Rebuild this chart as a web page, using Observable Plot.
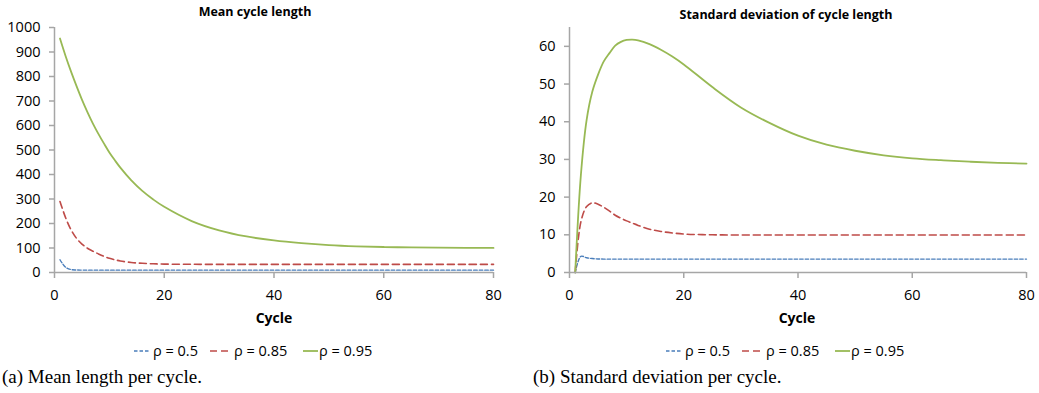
<!DOCTYPE html>
<html><head><meta charset="utf-8">
<script src="https://cdn.jsdelivr.net/npm/d3@7"></script>
<script src="https://cdn.jsdelivr.net/npm/@observablehq/plot@0.6"></script>
<style>
body{margin:0;background:#fff;}
#root{position:relative;width:1039px;height:393px;font-family:"Open Sans",sans-serif;color:#000;overflow:hidden;}
.panel{position:absolute;top:0;}
.title{position:absolute;font-weight:bold;font-size:12.5px;line-height:16px;transform:translateX(-50%);white-space:nowrap;}
.xlab{position:absolute;font-weight:bold;font-size:14px;line-height:18px;transform:translateX(-50%);white-space:nowrap;}
.leg{position:absolute;font-size:14.5px;line-height:18px;white-space:nowrap;}
.caption{position:absolute;font-family:"Liberation Serif",serif;font-size:19px;line-height:22px;white-space:nowrap;}
</style>
</head><body>
<div id="root"></div>
<script>
const series = ["ρ = 0.5", "ρ = 0.85", "ρ = 0.95"];
const colors = ["#4a7ebb", "#be4b48", "#98b954"];
const dashes = ["3.5,2", "7,4", null];
const widths = [1.4, 1.6, 1.8];
const xTicks = [0, 20, 40, 60, 80];
const meanTicks = [0, 100, 200, 300, 400, 500, 600, 700, 800, 900, 1000];
const sdTicks = [0, 10, 20, 30, 40, 50, 60];

const cycles = [1, 2, 3, 4, 5, 6, 7, 8, 9, 10, 11, 12, 14, 16, 18, 20, 25, 30, 35, 40, 45, 50, 55, 60, 65, 70, 75, 80];

const meanRho050 = [52, 22, 12, 10.2, 9.8, 9.6, 9.5, 9.5, 9.5, 9.5, 9.5, 9.5, 9.5, 9.5, 9.5, 9.5, 9.5, 9.5, 9.5, 9.5, 9.5, 9.5, 9.5, 9.5, 9.5, 9.5, 9.5, 9.5];
const meanRho085 = [290, 225, 175, 140, 116, 99, 87, 76, 66, 58, 52, 47, 41, 37.5, 35.5, 34.3, 33.5, 33.2, 33, 33, 33, 33, 33, 33, 33, 33, 33, 33];
const meanRho095 = [955, 885, 821, 762, 706, 655, 608, 566, 527, 490, 458, 428, 376, 333, 298, 268, 210, 172, 147, 131, 120, 112, 107, 104, 102.5, 101.5, 100.8, 100.3];

const sdRho050 = [0, 4.3, 3.9, 3.7, 3.6, 3.55, 3.55, 3.55, 3.55, 3.55, 3.55, 3.55, 3.55, 3.55, 3.55, 3.55, 3.55, 3.55, 3.55, 3.55, 3.55, 3.55, 3.55, 3.55, 3.55, 3.55, 3.55, 3.55];
const sdRho085 = [0, 13.5, 17.5, 18.5, 18.1, 17.3, 16.3, 15.2, 14.4, 13.7, 13.1, 12.5, 11.5, 10.9, 10.5, 10.2, 10, 9.95, 9.95, 9.95, 9.95, 9.95, 9.95, 9.95, 9.95, 9.95, 9.95, 9.95];
const sdRho095 = [0, 26, 40.5, 48, 52.5, 56, 58.2, 60.2, 61.2, 61.7, 61.8, 61.6, 60.6, 59.1, 57.3, 55.2, 49.2, 43.8, 39.7, 36.3, 33.9, 32.3, 31.1, 30.3, 29.8, 29.4, 29.1, 28.9];

const root = document.getElementById("root");

function makePanel(left, width, marginLeft, marginRight, valuesList, yDomain, yTicks) {
  const lineMarks = valuesList.map((vals, i) =>
    Plot.line(cycles.map((c, j) => ({cycle: c, value: vals[j]})), {
      x: "cycle", y: "value", stroke: colors[i], strokeWidth: widths[i],
      strokeDasharray: dashes[i], curve: "catmull-rom"
    })
  );
  const chart = Plot.plot({
    width, height: 330,
    marginLeft, marginRight, marginTop: 27, marginBottom: 58,
    style: {fontFamily: "Open Sans", fontSize: "14.5px", color: "#000", background: "white", overflow: "visible"},
    x: {domain: [0, 80]},
    y: {domain: yDomain},
    marks: [
      Plot.axisX({ticks: xTicks, tickSize: 6, tickPadding: 11, stroke: "#a6a6a6", strokeWidth: 1.5, fill: "#000", label: null, tickFormat: d3.format("d")}),
      Plot.axisY({ticks: yTicks, tickSize: 5, tickPadding: 9, stroke: "#a6a6a6", strokeWidth: 1.5, fill: "#000", label: null, tickFormat: d3.format("d")}),
      Plot.ruleX([0], {stroke: "#a6a6a6", strokeWidth: 1.5}),
      ...lineMarks,
      Plot.ruleY([0], {stroke: "#a6a6a6", strokeWidth: 1.5})
    ]
  });
  const div = document.createElement("div");
  div.className = "panel";
  div.style.left = left + "px";
  div.appendChild(chart);
  root.appendChild(div);
}

makePanel(0, 520, 54, 27, [meanRho050, meanRho085, meanRho095], [0, 1000], meanTicks);
makePanel(520, 519, 49, 13, [sdRho050, sdRho085, sdRho095], [0, 65], sdTicks);

function addText(cls, text, x, y) {
  const d = document.createElement("div");
  d.className = cls;
  d.textContent = text;
  d.style.left = x + "px";
  d.style.top = y + "px";
  root.appendChild(d);
}

addText("title", "Mean cycle length", 255, 4);
addText("title", "Standard deviation of cycle length", 786, 7);
addText("xlab", "Cycle", 274, 309);
addText("xlab", "Cycle", 797, 309);

const legLine = [0, 76, 169];
const legLen = [15, 20, 15];
const legText = [19, 100, 185];
function addLegend(x0) {
  series.forEach((s, i) => {
    const svg = document.createElementNS("http://www.w3.org/2000/svg", "svg");
    svg.setAttribute("width", legLen[i]); svg.setAttribute("height", 6);
    svg.style.position = "absolute";
    svg.style.left = (x0 + legLine[i]) + "px";
    svg.style.top = "348px";
    const ln = document.createElementNS("http://www.w3.org/2000/svg", "line");
    ln.setAttribute("x1", 0); ln.setAttribute("x2", legLen[i]);
    ln.setAttribute("y1", 3); ln.setAttribute("y2", 3);
    ln.setAttribute("stroke", colors[i]);
    ln.setAttribute("stroke-width", widths[i]);
    if (dashes[i]) ln.setAttribute("stroke-dasharray", dashes[i]);
    svg.appendChild(ln);
    root.appendChild(svg);
    addText("leg", s, x0 + legText[i], 342);
  });
}
addLegend(134);
addLegend(666);

addText("caption", "(a) Mean length per cycle.", 2, 366);
addText("caption", "(b) Standard deviation per cycle.", 533, 366);
</script>
</body></html>
